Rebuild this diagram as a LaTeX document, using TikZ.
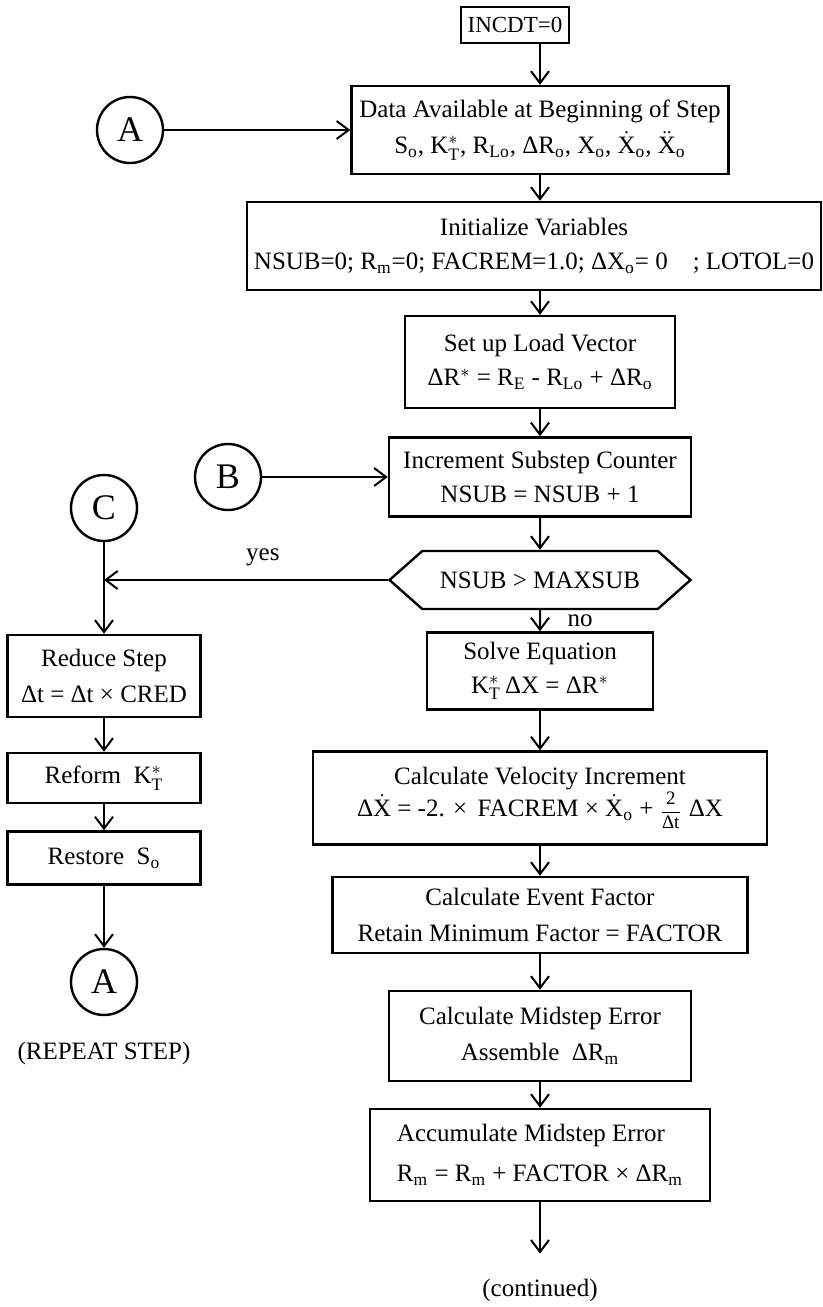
\documentclass[tikz,border=0pt]{standalone}
\usepackage{amsmath}
\usepackage{fontspec}
\setmainfont{Liberation Serif}
\usetikzlibrary{arrows.meta,shapes.symbols}

\newcommand{\vsub}[2]{#1$_{\text{#2}}$}
\newcommand{\kstar}{K$^{*}_{\text{T}}$}
\newcommand{\fsz}{\fontsize{12.5}{15}\selectfont}

\begin{document}
\begin{tikzpicture}[x=1pt,y=1pt,>={Straight Barb[length=6pt,width=9pt]}]
   \tikzstyle{every node}=[font=\fsz]
   \tikzstyle{box}=[draw,line width=1.2pt,align=center,inner sep=1pt]
   \tikzstyle{conn}=[draw,line width=1.2pt,circle,minimum size=33pt,inner sep=0pt,font=\fontsize{18}{20}\selectfont]
   \tikzstyle{flow}=[line width=1pt,->]

   \useasboundingbox (0,0) rectangle (411.5,-653.5) ;

   % main column
   \node (incdt) [box,minimum width=54pt,minimum height=18pt,font=\fontsize{11.5}{13}\selectfont] at (257.5,-12.5) {INCDT=0} ;
   \node (data) [box,below of=incdt,node distance=52.5pt,xshift=12.5pt,minimum width=188.5pt,minimum height=44pt]
      {Data Available at Beginning of Step\\[3pt]
       \vsub{S}{o}, \kstar, \vsub{R}{Lo}, Δ\vsub{R}{o}, \vsub{X}{o}, $\dot{\text{X}}_{\text{o}}$, $\ddot{\text{X}}_{\text{o}}$} ;
   \node (init) [box,below of=data,node distance=58pt,xshift=-3pt,minimum width=287pt,minimum height=44pt]
      {Initialize Variables\\[2pt]
       NSUB=0; \vsub{R}{m}=0; FACREM=1.0; Δ\vsub{X}{o}= 0\quad; LOTOL=0} ;
   \node (setup) [box,below of=init,node distance=58pt,xshift=3pt,minimum width=135pt,minimum height=46pt]
      {Set up Load Vector\\[2pt] ΔR$^{*}$ = \vsub{R}{E} - \vsub{R}{Lo} + Δ\vsub{R}{o}} ;
   \node (incr) [box,below of=setup,node distance=57.5pt,minimum width=151pt,minimum height=39.5pt]
      {Increment Substep Counter\\[2pt] NSUB = NSUB + 1} ;
   \node (hex) [draw,line width=1.2pt,shape=signal,signal to=west and east,signal pointer angle=83,
      below of=incr,node distance=51.5pt,minimum width=150.5pt,minimum height=29pt] {NSUB > MAXSUB} ;
   \node (solve) [box,below of=hex,node distance=45.5pt,minimum width=113pt,minimum height=38.5pt]
      {Solve Equation\\[2pt] \kstar\,ΔX = ΔR$^{*}$} ;
   \node (velo) [box,below of=solve,node distance=63.5pt,minimum width=227pt,minimum height=46.5pt]
      {Calculate Velocity Increment\\[1pt]
       Δ$\dot{\text{X}}$ = -2. × \,FACREM × $\dot{\text{X}}_{\text{o}}$ +
       {\fontsize{9.5}{10}\selectfont$\dfrac{\text{2}}{\text{Δt}}$}\;ΔX} ;
   \node (event) [box,below of=velo,node distance=58.5pt,minimum width=207.5pt,minimum height=38pt]
      {Calculate Event Factor\\[3pt] Retain Minimum Factor = FACTOR} ;
   \node (mid) [box,below of=event,node distance=60.5pt,minimum width=151pt,minimum height=45pt]
      {Calculate Midstep Error\\[3pt] Assemble~ Δ\vsub{R}{m}} ;
   \node (accu) [box,align=left,below of=mid,node distance=59.5pt,minimum width=170pt,minimum height=46pt]
      {Accumulate Midstep Error\\[5pt] \vsub{R}{m} = \vsub{R}{m} + FACTOR × Δ\vsub{R}{m}} ;
   \node (cont) [below of=accu,node distance=67.5pt] {(continued)} ;

   % connectors
   \node (A1) [conn,left of=data,node distance=205pt] {A} ;
   \node (B) [conn,left of=incr,node distance=156pt] {B} ;
   \node (C) [conn,left of=B,node distance=62pt,yshift=-15.5pt] {C} ;

   % left column
   \node (reduce) [box,below of=C,node distance=84pt,minimum width=96.5pt,minimum height=41pt]
      {Reduce Step\\[3pt] Δt = Δt × CRED} ;
   \node (reform) [box,below of=reduce,node distance=51pt,minimum width=96.5pt,minimum height=25pt]
      {Reform~ \kstar} ;
   \node (restore) [box,below of=reform,node distance=40pt,minimum width=96.5pt,minimum height=26.5pt]
      {Restore~ \vsub{S}{o}} ;
   \node (A2) [conn,below of=restore,node distance=62pt] {A} ;
   \node (repeat) [below of=A2,node distance=35.5pt] {(REPEAT STEP)} ;

   \draw [flow] (incdt.south -| data.north) -- (data.north) ;
   \draw [flow] (data.south) -- (data.south |- init.north) ;
   \draw [flow] (data.south |- init.south) -- (setup.north) ;
   \draw [flow] (setup) -- (incr) ;
   \draw [flow] (incr) -- (hex) ;
   \draw [flow] (hex) -- node[right=10pt] (no) {no} (solve) ;
   \draw [flow] (solve) -- (velo) ;
   \draw [flow] (velo) -- (event) ;
   \draw [flow] (event) -- (mid) ;
   \draw [flow] (mid) -- (accu) ;
   \draw [flow] (accu) -- ([yshift=9pt]cont.north) ;

   \draw [flow] (A1) -- (data) ;
   \draw [flow] (B) -- (incr) ;
   \draw [flow] (hex.west) -- node[above=3pt,pos=0.44] (yes) {yes} (hex.west -| C.south) ;
   \draw [flow] (C) -- (reduce) ;
   \draw [flow] (reduce) -- (reform) ;
   \draw [flow] (reform) -- (restore) ;
   \draw [flow] (restore) -- (A2) ;

\end{tikzpicture}
\end{document}
